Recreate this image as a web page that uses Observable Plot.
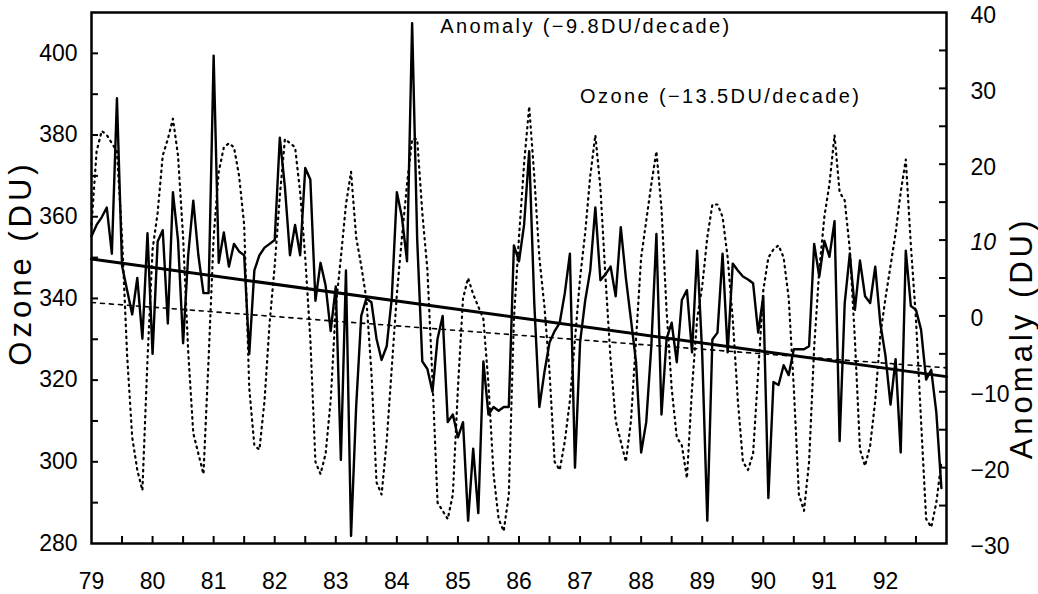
<!DOCTYPE html>
<html><head><meta charset="utf-8">
<script src="https://cdn.jsdelivr.net/npm/d3@7"></script>
<script src="https://cdn.jsdelivr.net/npm/@observablehq/plot@0.6"></script>
<style>
body{margin:0;background:#fff;}
#chart svg{display:block;}
</style></head><body><div id="chart"></div>
<script>
// Monthly series, January 1979 to December 1992
const startYear = 79;
const anomaly = [
  10.5, 12, 13, 14.3, 8.2, 28.7, 6.6, 3.4, 0.2, 5, -3, 10.9,
  -5, 9.8, 11.3, -1, 16.3, 10, -3.6, 8, 15.2, 8, 3, 3,
  34.3, 7, 11, 6.5, 9.5, 8.5, 8, -5, 6, 8, 9, 9.5,
  10, 23.5, 17, 8, 12, 8, 19.5, 18, 2, 7, 4, -2,
  3.9, -19, 6, -29, -12, 0, 2.3, 1.8, -3, -5.8, -4, 2.3,
  16.3, 13, 7.2, 38.6, 10, -6, -7, -10, -3, 0, -14, -13,
  -16, -14, -27, -17.5, -26, -6, -13, -12, -12.5, -12, -12, 9.3,
  7.2, 12, 21.7, 1.7, -12, -7.4, -3.5, -2, -0.9, 3, 8.2, -20,
  -3.5, 2, 6, 14.3, 4.7, 5.5, 6.5, 2.6, 11.7, 5, -0.5, -6.1,
  -18, -14, -4, 10.8, -13, -3, -0.9, -6.1, 2.1, 3.4, -4.8, 8.6,
  -5, -27, -3.1, -2.2, 8.2, -4.8, 6.9, 6, 5.2, 4.8, 4.3, -2.2,
  2.6, -24, -8.7, -9.1, -6.5, -7.8, -4.4, -4.4, -4.4, -4, 9.5, 5.2,
  9.9, 7.8, 12.5, -16.5, 1.7, 8.2, 0.8, 7.3, 2.6, 1.7, 6.5, -1,
  -5.2, -11.7, -5.7, -18, 8.6, 1.3, 0.8, -1.8, -8.4, -7.1, -12.7, -22.7
];
const ozone = [
  358, 376, 381, 380, 378, 376, 355, 326, 306, 298, 293, 325,
  352, 361, 375, 379, 384, 375, 355, 327, 307, 302, 297, 325,
  355, 371, 377, 378, 377, 370, 358, 318, 304, 303, 315, 334,
  348, 365, 379, 378, 377, 366, 350, 330, 300, 297, 302, 315,
  338, 350, 363, 371, 355, 348, 340, 322, 295, 292, 305, 323,
  341, 355, 368, 379, 379, 361, 347, 320, 290, 288, 286, 292,
  318, 340, 345, 341, 338, 335, 319, 297, 286, 283, 292, 335,
  355, 373, 387, 370, 350, 338, 322, 300, 298, 305, 315, 330,
  345, 356, 370, 380, 367, 345, 325, 310, 305, 300, 310, 330,
  350, 359, 368, 376, 362, 337, 318, 306, 304, 296, 318, 335,
  343, 355, 363, 363, 360, 350, 335, 315, 300, 298, 302, 322,
  342, 350, 352, 353, 350, 340, 318, 292, 288, 300, 328, 347,
  360, 368, 380, 366, 364, 352, 330, 303, 299, 304, 315, 331,
  340, 348, 356, 366, 374, 353, 335, 310, 286, 284, 290, 300
];
const trendYears = [79, 93];
const anomalyTrend = [7.5, -8];
const ozoneTrend = [339, 323];
const xTickLabels = [79, 80, 81, 82, 83, 84, 85, 86, 87, 88, 89, 90, 91, 92];
const ozoneTickLabels = [280, 300, 320, 340, 360, 380, 400];
const anomalyTickLabels = [-30, -20, -10, 0, 10, 20, 30, 40];
const annotations = ["Anomaly (\u22129.8DU/decade)", "Ozone (\u221213.5DU/decade)"];
const axisTitles = ["Ozone (DU)", "Anomaly (DU)"];

const ozMin = 280, ozMax = 410, anMin = -30, anMax = 40;
const toY = a => ozMin + (a - anMin) * (ozMax - ozMin) / (anMax - anMin);
const fromY = v => anMin + (v - ozMin) * (anMax - anMin) / (ozMax - ozMin);

const months = anomaly.map((a, i) => ({t: startYear + i / 12, a: toY(a), o: ozone[i]}));
const trendA = trendYears.map((t, i) => ({t, v: toY(anomalyTrend[i])}));
const trendO = trendYears.map((t, i) => ({t, v: ozoneTrend[i]}));

const W = 1038, H = 594, mL = 91, mR = 92, mT = 12, mB = 51;
const plotW = W - mL - mR, plotH = H - mT - mB;
const tickLen = 7;
const xMinor = d3.range(79.5, 93, 0.5);
const leftTicks = d3.range(290, 410, 10);
const rightTicks = d3.range(-25, 40, 5).map(toY);
const minus = n => (n < 0 ? "\u2212" + Math.abs(n) : String(n));
const font = "'Liberation Sans', Arial, Helvetica, sans-serif";

const chart = Plot.plot({
  width: W, height: H,
  marginLeft: mL, marginRight: mR, marginTop: mT, marginBottom: mB,
  style: {fontFamily: font, fontSize: "23px", color: "#000", background: "#fff"},
  x: {domain: [79, 93]},
  y: {domain: [ozMin, ozMax]},
  marks: [
    Plot.line(months, {x: "t", y: "o", stroke: "#000", strokeWidth: 2.2, strokeDasharray: "1.5,4.5", strokeLinecap: "round"}),
    Plot.line(months, {x: "t", y: "a", stroke: "#000", strokeWidth: 2.4}),
    Plot.line(trendO, {x: "t", y: "v", stroke: "#000", strokeWidth: 1.6, strokeDasharray: "4,5"}),
    Plot.line(trendA, {x: "t", y: "v", stroke: "#000", strokeWidth: 3}),
    Plot.frame({stroke: "#000", strokeWidth: 2.5}),
    Plot.tickX(xMinor, {x: d => d, insetTop: plotH - tickLen, stroke: "#000", strokeWidth: 2}),
    Plot.tickY(leftTicks, {y: d => d, insetRight: plotW - tickLen, stroke: "#000", strokeWidth: 2}),
    Plot.tickY(rightTicks, {y: d => d, insetLeft: plotW - tickLen, stroke: "#000", strokeWidth: 2}),
    Plot.axisX(xTickLabels, {tickSize: 0, tickPadding: 29, tickFormat: d => String(d), label: null, fontSize: 23}),
    Plot.axisY(ozoneTickLabels, {anchor: "left", tickSize: 0, tickPadding: 14, label: null, fontSize: 23}),
    Plot.axisY(anomalyTickLabels.map(toY), {anchor: "right", tickSize: 0, tickPadding: 24, dy: 3, label: null, fontSize: 23,
      tickFormat: v => minus(Math.round(fromY(v)))}),
    Plot.text([axisTitles[0]], {frameAnchor: "left", textAnchor: "middle", dx: -70, dy: -15, rotate: -90, fontSize: 31}),
    Plot.text([axisTitles[1]], {frameAnchor: "right", textAnchor: "middle", dx: 76, dy: 60, rotate: -90, fontSize: 31}),
    Plot.text([annotations[0]], {x: 84.71, y: 406.6, textAnchor: "start", fontSize: 20}),
    Plot.text([annotations[1]], {x: 87.0, y: 389.5, textAnchor: "start", fontSize: 20})
  ]
});
document.getElementById("chart").appendChild(chart);
d3.select(chart).selectAll("text").each(function () {
  const s = this.textContent;
  if (annotations.includes(s)) this.style.letterSpacing = "2.4px";
  else if (axisTitles.includes(s)) this.style.letterSpacing = "4px";
  else if (s === "10" && this.getBoundingClientRect().x > W / 2) this.style.fontStyle = "italic";
});
</script>
</body></html>
